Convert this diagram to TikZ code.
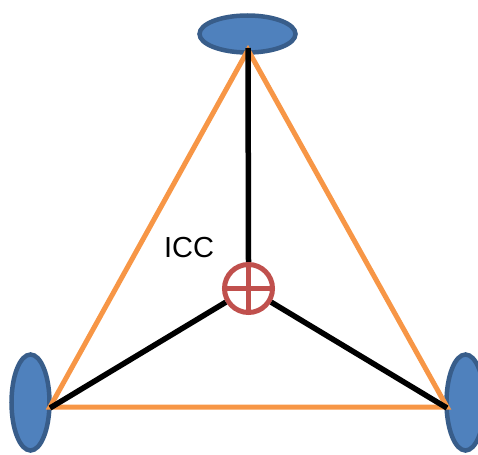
\documentclass[tikz,border=0pt]{standalone}
\usepackage{fontspec}
\setmainfont{Liberation Sans}
\usetikzlibrary{shapes.geometric}
\definecolor{bfill}{HTML}{4F81BD}
\definecolor{bline}{HTML}{385D8A}
\definecolor{iccred}{HTML}{C0504D}
\definecolor{orng}{HTML}{F79646}
\tikzset{
  wheel/.style={ellipse, draw=bline, fill=bfill, line width=4.5pt, inner sep=0pt},
  edgeo/.style={draw=orng, line width=5pt},
  spoke/.style={draw=black, line width=5.5pt},
  icc/.style={circle, draw=iccred, fill=white, line width=5pt, minimum size=48pt, inner sep=0pt}
}
\begin{document}
\begin{tikzpicture}[x=1pt,y=-1pt]
\useasboundingbox (0,0) rectangle (478,454);
\clip (0,0) rectangle (478,454);
\node[wheel, minimum width=96pt, minimum height=37pt] (wt) at (247.5,34) {};
\node[wheel, minimum width=38pt, minimum height=96pt] (wl) at (30.5,402.5) {};
\node[wheel, minimum width=38pt, minimum height=96pt] (wr) at (465.5,402.5) {};
\coordinate (T) at (248,50);
\coordinate (L) at (50,407);
\coordinate (R) at (447,407);
\coordinate (Ts) at (248,48);
\coordinate (Ls) at (50,408);
\coordinate (Rs) at (447,408);
\draw[edgeo, line join=miter] (T) -- (L) -- (R) -- cycle;
\node[icc] (C) at (248.5,288.5) {};
\draw[spoke] (C.north) -- (Ts);
\draw[spoke] (C) -- (Ls);
\draw[spoke] (C) -- (Rs);
\draw[draw=iccred, line width=5pt] (C.north) -- (C.south) (C.west) -- (C.east);
\node[font=\fontsize{29}{31}\selectfont] (lbl) at (189,248) {ICC};
\end{tikzpicture}
\end{document}
